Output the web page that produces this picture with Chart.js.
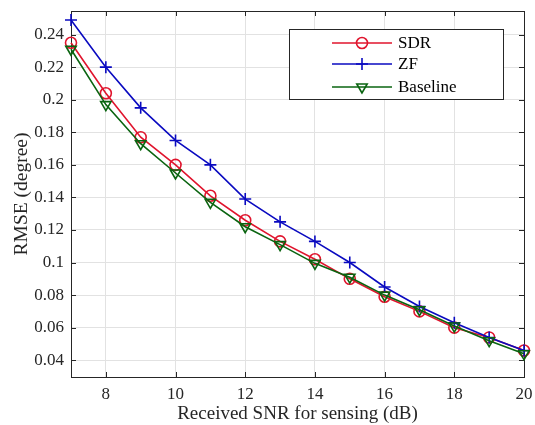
<!DOCTYPE html>
<html>
<head>
<meta charset="utf-8">
<script src="https://cdn.jsdelivr.net/npm/chart.js@4"></script>
<style>
  html, body { margin: 0; padding: 0; background: #fff; }
  #wrap { width: 535px; height: 425px; }
</style>
</head>
<body>
<div id="wrap"><canvas id="rmseChart" width="535" height="425"></canvas></div>
<script>
const snr = [7, 8, 9, 10, 11, 12, 13, 14, 15, 16, 17, 18, 19, 20];
const sdr = [0.235, 0.204, 0.177, 0.160, 0.141, 0.126, 0.113, 0.102, 0.090, 0.079, 0.070, 0.060, 0.054, 0.046];
const zf = [0.249, 0.220, 0.195, 0.175, 0.160, 0.139, 0.125, 0.113, 0.100, 0.085, 0.073, 0.063, 0.054, 0.046];
const baseline = [0.231, 0.197, 0.173, 0.155, 0.137, 0.122, 0.111, 0.0995, 0.091, 0.080, 0.071, 0.061, 0.052, 0.044];
const xTicks = [8, 10, 12, 14, 16, 18, 20];
const yTicks = [0.04, 0.06, 0.08, 0.1, 0.12, 0.14, 0.16, 0.18, 0.2, 0.22, 0.24];

const serif = "'Liberation Serif', 'Times New Roman', serif";

function toPoints(ys) {
  return snr.map((x, i) => ({ x: x, y: ys[i] }));
}

// box around the axes plus inward tick marks (matlab style)
const framePlugin = {
  id: "frame",
  beforeDatasetsDraw(chart) {
    const { ctx, chartArea: a, scales } = chart;
    ctx.save();
    ctx.strokeStyle = "#262626";
    ctx.lineWidth = 1;
    ctx.beginPath();
    xTicks.forEach(v => {
      const px = Math.round(scales.x.getPixelForValue(v)) + 0.5;
      ctx.moveTo(px, a.bottom); ctx.lineTo(px, a.bottom - 5);
      ctx.moveTo(px, a.top); ctx.lineTo(px, a.top + 5);
    });
    yTicks.forEach(v => {
      const py = Math.round(scales.y.getPixelForValue(v)) + 0.5;
      ctx.moveTo(a.left, py); ctx.lineTo(a.left + 5, py);
      ctx.moveTo(a.right, py); ctx.lineTo(a.right - 5, py);
    });
    ctx.stroke();
    ctx.strokeRect(Math.round(a.left) + 0.5, Math.round(a.top) + 0.5,
      Math.round(a.right - a.left), Math.round(a.bottom - a.top));
    ctx.restore();
  }
};

// legend box inside the plot, top right
const legendPlugin = {
  id: "boxLegend",
  afterDraw(chart) {
    const { ctx, chartArea: a } = chart;
    const w = 214, h = 70;
    const x0 = a.right - 21 - w, y0 = a.top + 18;
    ctx.save();
    ctx.fillStyle = "#fff";
    ctx.fillRect(x0, y0, w, h);
    ctx.strokeStyle = "#262626";
    ctx.lineWidth = 1;
    ctx.strokeRect(Math.round(x0) + 0.5, Math.round(y0) + 0.5, w, h);
    const rows = [14, 35, 58];
    chart.data.datasets.forEach((ds, i) => {
      const y = y0 + rows[i];
      const lx = x0 + 43, rx = x0 + 103, mx = (lx + rx) / 2;
      ctx.strokeStyle = ds.borderColor;
      ctx.lineWidth = ds.borderWidth;
      ctx.beginPath();
      ctx.moveTo(lx, y); ctx.lineTo(rx, y);
      ctx.stroke();
      ctx.fillStyle = "rgba(0,0,0,0)";
      Chart.helpers.drawPoint(ctx, {
        pointStyle: ds.pointStyle,
        rotation: ds.pointRotation || 0,
        radius: ds.pointRadius,
        borderWidth: ds.pointBorderWidth
      }, mx, y);
      ctx.fillStyle = "#000";
      ctx.font = "17px " + serif;
      ctx.textBaseline = "middle";
      ctx.textAlign = "left";
      ctx.fillText(ds.label, x0 + 109, y + 1);
    });
    ctx.restore();
  }
};

const common = {
  backgroundColor: "rgba(0,0,0,0)",
  pointBackgroundColor: "rgba(0,0,0,0)",
  borderWidth: 1.6,
  pointBorderWidth: 1.6,
  tension: 0,
  clip: false
};

new Chart(document.getElementById("rmseChart"), {
  type: "line",
  data: {
    datasets: [Object.assign({
      label: "SDR",
      data: toPoints(sdr),
      borderColor: "#e0142d",
      pointStyle: "circle",
      pointRadius: 5.5,
      order: 3
    }, common), Object.assign({
      label: "ZF",
      data: toPoints(zf),
      borderColor: "#0a0ac0",
      pointStyle: "cross",
      pointRadius: 6,
      order: 2
    }, common), Object.assign({
      label: "Baseline",
      data: toPoints(baseline),
      borderColor: "#0a6410",
      pointStyle: "triangle",
      pointRotation: 180,
      pointRadius: 6,
      order: 1
    }, common)]
  },
  options: {
    responsive: false,
    animation: false,
    layout: { autoPadding: false, padding: { left: 0, right: 11, top: 11, bottom: 0 } },
    plugins: {
      legend: { display: false },
      tooltip: { enabled: false }
    },
    scales: {
      x: {
        type: "linear",
        min: 7,
        max: 20,
        afterBuildTicks: s => { s.ticks = xTicks.map(v => ({ value: v })); },
        afterFit: s => { s.height = 48; s.paddingLeft = 0; s.paddingRight = 0; },
        grid: { color: "#e2e2e2", drawTicks: false },
        border: { display: false },
        ticks: { padding: 7, color: "#262626", font: { family: serif, size: 17 } },
        title: {
          display: true,
          text: "Received SNR for sensing (dB)",
          color: "#262626",
          font: { family: serif, size: 19 },
          padding: { top: 0, bottom: 0 }
        }
      },
      y: {
        min: 0.0297,
        max: 0.2545,
        afterBuildTicks: s => { s.ticks = yTicks.map(v => ({ value: v })); },
        afterFit: s => { s.width = 71; s.paddingTop = 0; s.paddingBottom = 0; },
        grid: { color: "#e2e2e2", drawTicks: false },
        border: { display: false },
        ticks: {
          padding: 7,
          color: "#262626",
          font: { family: serif, size: 17 },
          callback: v => String(+v.toFixed(2))
        },
        title: {
          display: true,
          text: "RMSE (degree)",
          color: "#262626",
          font: { family: serif, size: 19.5 },
          padding: { top: 10, bottom: 0 }
        }
      }
    }
  },
  plugins: [framePlugin, legendPlugin]
});
</script>
</body>
</html>
